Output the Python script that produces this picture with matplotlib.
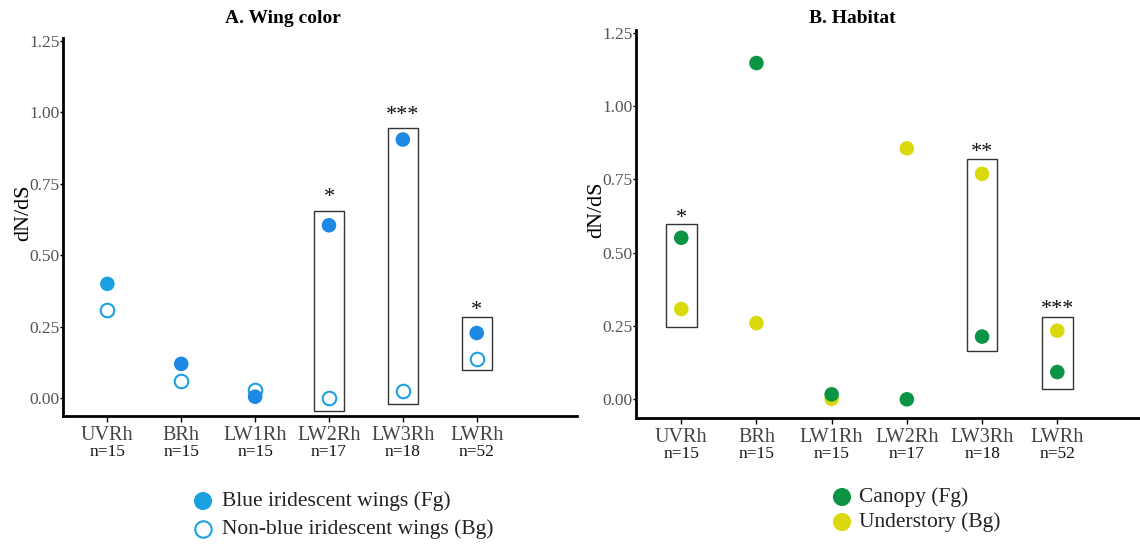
import matplotlib.pyplot as plt
from matplotlib.patches import Rectangle

plt.rcParams["font.family"] = ["Liberation Serif", "DejaVu Serif"]

genes = ["UVRh", "BRh", "LW1Rh", "LW2Rh", "LW3Rh", "LWRh"]
n_labels = ["n=15", "n=15", "n=15", "n=17", "n=18", "n=52"]

# A. wing color
blue_fg = [0.40, 0.12, 0.005, 0.605, 0.905, 0.228]
blue_bg = [0.31, 0.06, 0.03, 0.0, 0.025, 0.138]
blue_fg_colors = ["#1ba1e2", "#1e88e5", "#1e88e5", "#1e88e5", "#1e88e5", "#1e88e5"]
wing_boxes = {"LW2Rh": (-0.045, 0.656), "LW3Rh": (-0.021, 0.947), "LWRh": (0.098, 0.283)}
wing_stars = {"LW2Rh": ("*", 0.67), "LW3Rh": ("***", 0.955), "LWRh": ("*", 0.275)}

# B. habitat
canopy_fg = [0.551, 1.147, 0.017, 0.0, 0.214, 0.093]
under_bg = [0.308, 0.26, 0.002, 0.856, 0.769, 0.234]
hab_boxes = {"UVRh": (0.247, 0.598), "LW3Rh": (0.166, 0.82), "LWRh": (0.034, 0.282)}
hab_stars = {"UVRh": ("*", 0.585), "LW3Rh": ("**", 0.81), "LWRh": ("***", 0.275)}


def style_axis(ax, xmax, ylab_pos):
    x = list(range(1, len(genes) + 1))
    ax.set_xlim(0.4, xmax)
    ax.set_ylim(-0.063, 1.26)
    ax.set_xticks(x)
    ax.set_xticklabels(genes, fontsize=14.5, color="#444444")
    for xi, lab in zip(x, n_labels):
        ax.annotate(lab, xy=(xi, 0), xycoords=("data", "axes fraction"),
                    xytext=(0, -20), textcoords="offset points",
                    ha="center", va="top", fontsize=12.5, color="#111111")
    ax.set_yticks([0, 0.25, 0.5, 0.75, 1.0, 1.25])
    ax.set_yticklabels(["0.00", "0.25", "0.50", "0.75", "1.00", "1.25"], fontsize=12.5, color="#555555")
    for s in ["top", "right"]:
        ax.spines[s].set_visible(False)
    for s in ["left", "bottom"]:
        ax.spines[s].set_linewidth(2)
    ax.tick_params(axis="x", length=4, width=1, pad=3)
    ax.tick_params(axis="y", length=2, width=1, pad=0.5)
    ax.set_ylabel("dN/dS", fontsize=16)
    ax.yaxis.set_label_coords(*ylab_pos)


def draw_boxes(ax, boxes, stars):
    for g, (lo, hi) in boxes.items():
        xi = genes.index(g) + 1
        ax.add_patch(Rectangle((xi - 0.205, lo), 0.41, hi - lo, fill=False,
                               edgecolor="#333333", linewidth=1, zorder=1))
    for g, (s, y) in stars.items():
        xi = genes.index(g) + 1
        ax.text(xi, y, s, ha="center", va="bottom", fontsize=16, color="#111111")


fig = plt.figure(figsize=(11.4, 5.44), dpi=100)
x = list(range(1, len(genes) + 1))

ax1 = fig.add_axes([0.0553, 0.235, 0.451, 0.695])
draw_boxes(ax1, wing_boxes, wing_stars)
ax1.scatter(x, blue_bg, s=95, facecolors="white", edgecolors="#1ba1e2", linewidths=1.5, zorder=3)
ax1.scatter(x, blue_fg, s=110, c=blue_fg_colors, edgecolors="none", zorder=4)
style_axis(ax1, 7.36, (-0.058, 0.537))
fig.text(0.248, 0.966, "A. Wing color", ha="center", va="center", fontsize=14, fontweight="bold")

ax2 = fig.add_axes([0.558, 0.232, 0.442, 0.713])
draw_boxes(ax2, hab_boxes, hab_stars)
ax2.scatter(x, under_bg, s=110, c="#d9d90b", edgecolors="none", zorder=3)
ax2.scatter(x, canopy_fg, s=110, c="#0a9444", edgecolors="none", zorder=4)
style_axis(ax2, 7.1, (-0.06, 0.536))
fig.text(0.748, 0.966, "B. Habitat", ha="center", va="center", fontsize=14, fontweight="bold")

# legends drawn in pixel coordinates of the figure
leg = fig.add_axes([0, 0, 1, 1], facecolor="none")
leg.set_xlim(0, 1140)
leg.set_ylim(544, 0)
leg.axis("off")
leg.scatter([203], [501], s=170, c="#1ba1e2", edgecolors="none")
leg.scatter([203], [529], s=140, facecolors="white", edgecolors="#1ba1e2", linewidths=1.5)
leg.text(222, 501, "Blue iridescent wings (Fg)", va="center", fontsize=15.5, color="#222222")
leg.text(222, 529, "Non-blue iridescent wings (Bg)", va="center", fontsize=15.5, color="#222222")
leg.scatter([842], [497], s=170, c="#0a9444", edgecolors="none")
leg.scatter([842], [522], s=170, c="#d9d90b", edgecolors="none")
leg.text(859, 497, "Canopy (Fg)", va="center", fontsize=15.5, color="#222222")
leg.text(859, 522, "Understory (Bg)", va="center", fontsize=15.5, color="#222222")

fig.savefig("out.png", dpi=100, facecolor="white")
